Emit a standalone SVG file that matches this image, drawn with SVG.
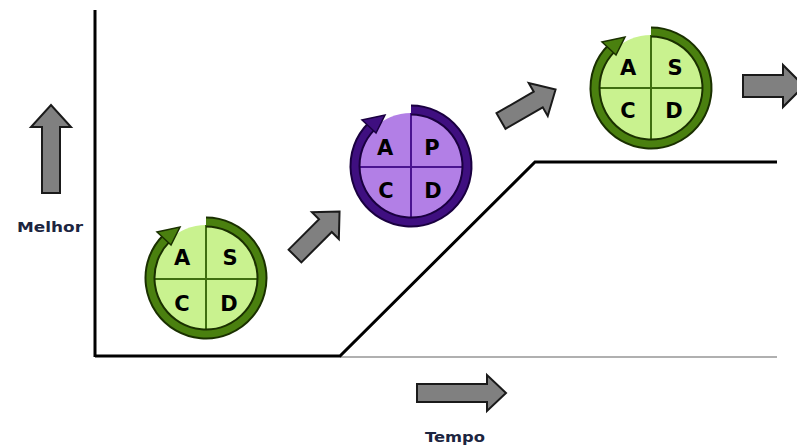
<svg xmlns="http://www.w3.org/2000/svg" xmlns:xlink="http://www.w3.org/1999/xlink" width="797" height="446" viewBox="0 0 797 446">
<style>
.axis{fill:none;stroke:#000;stroke-width:3}
.base{fill:none;stroke:#b0b0b0;stroke-width:2}
.blk{fill:#808080;stroke:#1a1a1a;stroke-width:2;stroke-linejoin:miter}
.lbl{font-family:"DejaVu Sans","Liberation Sans",sans-serif;font-weight:bold;font-size:14px;fill:#1c2540}
.ltr{font-family:"DejaVu Sans","Liberation Sans",sans-serif;font-weight:bold;font-size:21px;fill:#000;text-anchor:middle}
.gfill{fill:#c9f28f}
.gdiv{stroke:#3f6e10;stroke-width:2}
.gout{fill:none;stroke:#1a3000;stroke-width:11}
.gin{fill:none;stroke:#4a800f;stroke-width:7}
.ghead{fill:#4a800f;stroke:#1a3000;stroke-width:1.5}
.pfill{fill:#b27fe6}
.pdiv{stroke:#4a1490;stroke-width:2}
.pout{fill:none;stroke:#1a0040;stroke-width:11}
.pin{fill:none;stroke:#3f0f80;stroke-width:7}
.phead{fill:#3f0f80;stroke:#1a0040;stroke-width:1.5}
</style>
<defs>
<path id="ring" d="M0,-56 A56,56 0 1 1 -39.6,-39.6"/>
<polygon id="rhead" points="-35,-33 -49,-46 -26,-51"/>
<path id="darr" d="M0,-9 L43,-9 L43,-19 L63,0 L43,19 L43,9 L0,9 Z"/>
</defs>
<rect width="797" height="446" fill="#fff"/>
<g id="axes">
<line class="axis" x1="95" y1="10" x2="95" y2="357"/>
<line class="base" x1="340" y1="357" x2="777" y2="357"/>
<polyline class="axis" points="95,356 340,356 535,162 777,162"/>
</g>
<g id="connectors">
<path class="blk" d="M42,193 L42,127 L31,127 L51,105 L71,127 L60,127 L60,193 Z"/>
<path class="blk" d="M417,384 L487,384 L487,375 L506,393 L487,411 L487,402 L417,402 Z"/>
<path class="blk" d="M743,75 L783,75 L783,65 L804,86 L783,107 L783,97 L743,97 Z"/>
<use xlink:href="#darr" href="#darr" class="blk" transform="translate(295,256) rotate(-45)"/>
<use xlink:href="#darr" href="#darr" class="blk" transform="translate(501,121) rotate(-30)"/>
</g>
<g id="label-melhor"><text class="lbl" x="17" y="232" textLength="66" lengthAdjust="spacingAndGlyphs">Melhor</text></g>
<g id="label-tempo"><text class="lbl" x="425" y="442" textLength="60" lengthAdjust="spacingAndGlyphs">Tempo</text></g>
<g id="cycle1" transform="translate(206,278)">
<circle class="gfill" r="53"/>
<line class="gdiv" x1="0" y1="-53" x2="0" y2="53"/>
<line class="gdiv" x1="-53" y1="1" x2="53" y2="1"/>
<use xlink:href="#ring" href="#ring" class="gout"/>
<use xlink:href="#ring" href="#ring" class="gin"/>
<use xlink:href="#rhead" href="#rhead" class="ghead"/>
<text class="ltr" x="-24" y="-13">A</text>
<text class="ltr" x="24" y="-13">S</text>
<text class="ltr" x="-24" y="33">C</text>
<text class="ltr" x="23" y="33">D</text>
</g>
<g id="cycle2" transform="translate(411,166)">
<circle class="pfill" r="53"/>
<line class="pdiv" x1="0" y1="-53" x2="0" y2="53"/>
<line class="pdiv" x1="-53" y1="1" x2="53" y2="1"/>
<use xlink:href="#ring" href="#ring" class="pout"/>
<use xlink:href="#ring" href="#ring" class="pin"/>
<use xlink:href="#rhead" href="#rhead" class="phead"/>
<text class="ltr" x="-26" y="-11">A</text>
<text class="ltr" x="21" y="-11">P</text>
<text class="ltr" x="-25" y="32">C</text>
<text class="ltr" x="22" y="32">D</text>
</g>
<g id="cycle3" transform="translate(651,88)">
<circle class="gfill" r="53"/>
<line class="gdiv" x1="0" y1="-53" x2="0" y2="53"/>
<line class="gdiv" x1="-53" y1="0" x2="53" y2="0"/>
<use xlink:href="#ring" href="#ring" class="gout"/>
<use xlink:href="#ring" href="#ring" class="gin"/>
<use xlink:href="#rhead" href="#rhead" class="ghead"/>
<text class="ltr" x="-23" y="-13">A</text>
<text class="ltr" x="24" y="-13">S</text>
<text class="ltr" x="-23" y="30">C</text>
<text class="ltr" x="23" y="30">D</text>
</g>
</svg>
